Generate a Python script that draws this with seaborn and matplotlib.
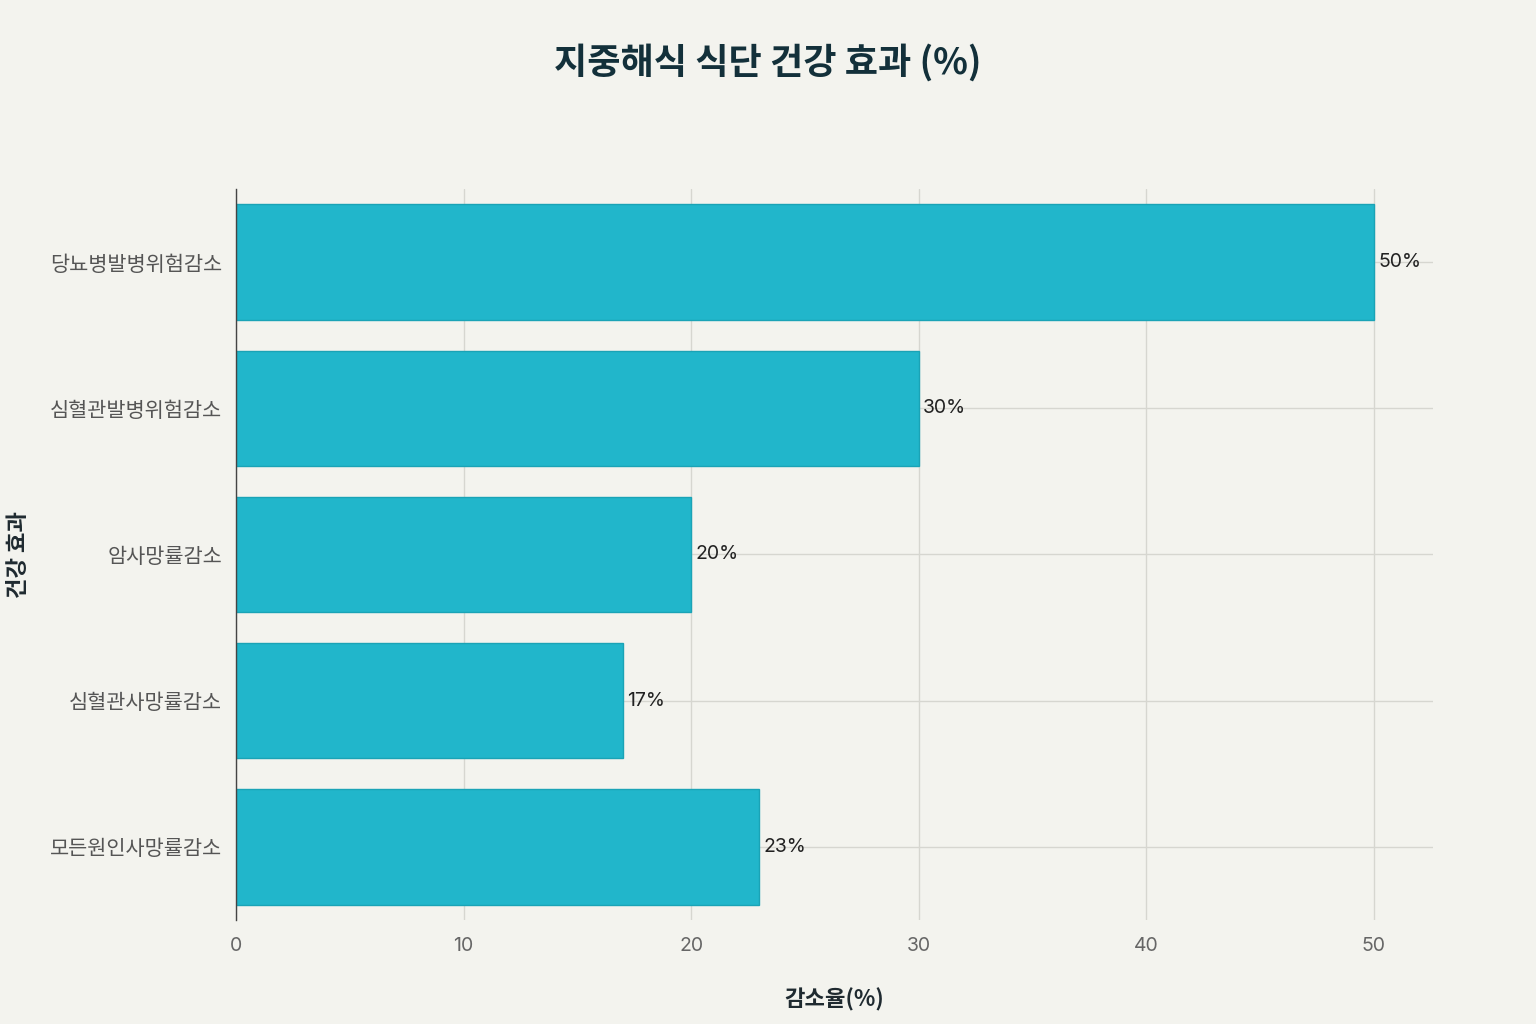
import numpy as np
import pandas as pd
import seaborn as sns
import matplotlib.pyplot as plt

# 데이터
effects = ['당뇨병발병위험감소', '심혈관발병위험감소', '암사망률감소', '심혈관사망률감소', '모든원인사망률감소']
reduction = [50, 30, 20, 17, 23]

df = pd.DataFrame({'effect': effects, 'reduction': reduction})

sns.set_theme(style='whitegrid')
plt.rcParams['font.family'] = ['Noto Sans CJK KR', 'DejaVu Sans']

bg = '#F3F3EE'
fig = plt.figure(figsize=(15.36, 10.24), dpi=100, facecolor=bg)
ax = fig.add_axes([0.1536, 0.1016, 0.7794, 0.7138])
ax.set_facecolor(bg)

sns.barplot(data=df, x='reduction', y='effect', color='#21B6CB', saturation=1,
            width=0.79, edgecolor='#1AA3B6', linewidth=1, ax=ax)

# 값 라벨
ax.bar_label(ax.containers[0], labels=[f'{v}%' for v in reduction],
             padding=3, fontsize=14, color='#222222', family=['Inter', 'DejaVu Sans'])

ax.set_xlim(0, 52.6)
ax.set_xticks([0, 10, 20, 30, 40, 50])
ax.grid(True, axis='both', color='#D6D6D0', linewidth=1)
ax.set_axisbelow(True)

for s in ['top', 'right', 'bottom']:
    ax.spines[s].set_visible(False)
ax.spines['left'].set_color('#444444')
ax.spines['left'].set_linewidth(1)

ax.tick_params(axis='x', labelsize=14, labelcolor='#666666', length=8, color='#D6D6D0', pad=4)
ax.tick_params(axis='y', labelsize=15, labelcolor='#555555', length=8, color='#D6D6D0', pad=2)
for lab in ax.get_xticklabels():
    lab.set_family(['Inter', 'DejaVu Sans'])

ax.set_xlabel('감소율(%)', fontsize=16, fontweight='bold', color='#1F2A30', labelpad=24)
ax.set_ylabel('건강 효과', fontsize=16, fontweight='bold', color='#1F2A30')
ax.yaxis.set_label_coords(-0.172, 0.5)

fig.suptitle('지중해식 식단 건강 효과 (%)', fontsize=26, fontweight='bold', color='#13303A', y=0.957)

plt.savefig('out.png', dpi=100, facecolor=bg)
